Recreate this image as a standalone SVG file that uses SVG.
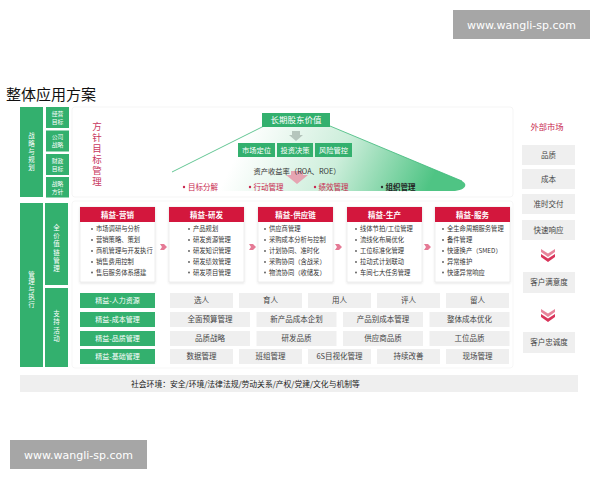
<svg xmlns="http://www.w3.org/2000/svg" width="600" height="480" viewBox="0 0 600 480">
<defs>
<style>
text{font-family:"Noto Sans CJK SC","Noto Sans",sans-serif;}
.g{fill:#33b06e;}
.wt{fill:#fff;text-anchor:middle;}
.vt{fill:#fff;text-anchor:middle;font-size:6.5px;writing-mode:tb;}
.st{fill:#fff;text-anchor:middle;font-size:5.8px;}
.card{fill:#fff;stroke:#e4e4e4;stroke-width:0.6;}
.hdr{fill:#d3173d;}
.ht{fill:#fff;text-anchor:middle;font-size:7.5px;font-weight:bold;}
.it{fill:#333;font-size:6.3px;}
.dot{fill:#555;}
.gb{fill:#efefef;}
.gt{fill:#444;text-anchor:middle;font-size:7.5px;}
.rt{fill:#c8284f;font-size:7.5px;}
.pa{fill:#e57a95;}
.chev{fill:#d9345a;}
.wm{fill:#a6a6a6;}
.wmt{fill:#fff;font-family:"DejaVu Sans",sans-serif;font-size:11px;text-anchor:middle;}
</style>
<linearGradient id="roof" gradientUnits="userSpaceOnUse" x1="250" y1="125" x2="420" y2="205">
<stop offset="0" stop-color="#ffffff"/>
<stop offset="0.5" stop-color="#cdeedb"/>
<stop offset="1" stop-color="#4fc484"/>
</linearGradient>
<filter id="sh" x="-10%" y="-10%" width="120%" height="130%">
<feDropShadow dx="0" dy="1" stdDeviation="1" flood-color="#000" flood-opacity="0.12"/>
</filter>
</defs>
<rect width="600" height="480" fill="#fff"/>

<g id="watermark-top"><rect class="wm" x="453" y="10" width="137" height="29"/><text class="wmt" x="521.5" y="28.5">www.wangli-sp.com</text></g>
<g id="watermark-bottom"><rect class="wm" x="10" y="440" width="137" height="29"/><text class="wmt" x="78.5" y="458.5">www.wangli-sp.com</text></g>

<text x="6" y="100" font-size="15" fill="#111">整体应用方案</text>

<!-- panels -->
<rect x="72" y="107" width="441" height="90" rx="3" fill="#fff" stroke="#eeeeee" stroke-width="0.6"/>
<rect x="72" y="201" width="441" height="167" rx="3" fill="#fff" stroke="#f2f2f2" stroke-width="0.6"/>

<!-- left columns -->
<g id="strategy-col">
<rect class="g" x="20" y="107" width="23" height="90"/>
<text class="vt" x="31.5" y="152" letter-spacing="1.5">战略与规划</text>
</g>
<g id="sub-goals">
<rect class="g" x="46" y="107" width="23" height="21"/><text class="st" x="57.5" y="115.5">经营</text><text class="st" x="57.5" y="123.5">目标</text>
<rect class="g" x="46" y="130.5" width="23" height="21"/><text class="st" x="57.5" y="139">公司</text><text class="st" x="57.5" y="147">战略</text>
<rect class="g" x="46" y="154" width="23" height="21"/><text class="st" x="57.5" y="162.5">财政</text><text class="st" x="57.5" y="170.5">目标</text>
<rect class="g" x="46" y="177" width="23" height="20.5"/><text class="st" x="57.5" y="185.5">战略</text><text class="st" x="57.5" y="193.5">方针</text>
</g>
<g id="exec-col">
<rect class="g" x="20" y="203" width="23" height="164"/>
<text class="vt" x="31.5" y="290" letter-spacing="1">管理与执行</text>
</g>
<g id="value-chain-col">
<rect class="g" x="45" y="203" width="23" height="82"/>
<text class="vt" x="56.5" y="249" letter-spacing="1.8">全价值链管理</text>
</g>
<g id="support-col">
<rect class="g" x="45" y="288" width="23" height="79"/>
<text class="vt" x="56.5" y="327" letter-spacing="1.8">支持活动</text>
</g>

<!-- policy management -->
<text id="policy-label" x="97" y="155" fill="#c8385f" font-size="9.5" text-anchor="middle" writing-mode="tb" letter-spacing="1.5">方针目标管理</text>

<g id="roof">
<path d="M264 126 L172 172 C168 180 170 190 181 191 L455 191 C466 190 468 184 462 181 L330 126 Z" fill="url(#roof)"/>
<path d="M264 126 L172 172 M330 126 L462 181" stroke="#3cb878" stroke-width="0.8" fill="none"/>
</g>

<g id="connectors">
<polygon points="292,131 300,131 300,135 303,135 296,141 289,135 292,135" fill="#a9b9b0" opacity="0.8"/>
<polygon points="291,171 303,171 303,175 308,175 297,184 286,175 291,175" fill="#e88aa0" opacity="0.75"/>
<polygon class="pa" points="160,244 164,244 167,247 164,250 160,250 162,247"/>
<polygon class="pa" points="249,244 253,244 256,247 253,250 249,250 251,247"/>
<polygon class="pa" points="335,244 339,244 342,247 339,250 335,250 337,247"/>
<polygon class="pa" points="424,244 428,244 431,247 428,250 424,250 426,247"/>
<g class="chev">
<polygon points="541,249 548,253.5 555,249 555,252 548,257 541,252" opacity="0.6"/>
<polygon points="541,254 548,258.5 555,254 555,257 548,262 541,257"/>
<polygon points="541,309 548,313.5 555,309 555,312 548,317 541,312" opacity="0.6"/>
<polygon points="541,314 548,318.5 555,314 555,317 548,322 541,317"/>
</g>
</g>

<g id="shareholder-value">
<rect class="g" x="262" y="113" width="68" height="14"/>
<text class="wt" font-size="8.5" x="296" y="123">长期股东价值</text>
</g>
<g id="market-position"><rect class="g" x="238" y="143" width="37" height="14"/><text class="wt" font-size="7.3" x="256.5" y="152.8">市场定位</text></g>
<g id="investment"><rect class="g" x="277" y="143" width="36" height="14"/><text class="wt" font-size="7.3" x="295" y="152.8">投资决策</text></g>
<g id="risk"><rect class="g" x="315" y="143" width="37" height="14"/><text class="wt" font-size="7.3" x="333.5" y="152.8">风险管控</text></g>
<text x="297" y="174" font-size="7.3" fill="#333" text-anchor="middle">资产收益率（ROA、ROE）</text>

<g id="bullets-top">
<circle cx="184" cy="187" r="1.2" fill="#c8284f"/><text class="rt" x="188" y="189.5">目标分解</text>
<circle cx="250" cy="187" r="1.2" fill="#c8284f"/><text class="rt" x="253.5" y="189.5">行动管理</text>
<circle cx="315" cy="187" r="1.2" fill="#c8284f"/><text class="rt" x="318.5" y="189.5">绩效管理</text>
<circle cx="382" cy="187" r="1.2" fill="#333"/><text x="385.5" y="189.5" font-size="7.5" fill="#222" font-weight="bold">组织管理</text>
</g>

<!-- value chain cards -->
<g id="card-marketing">
<rect class="card" x="80" y="207" width="75" height="75" filter="url(#sh)"/>
<rect class="hdr" x="80" y="207" width="75" height="15"/><text class="ht" x="117.5" y="217.5">精益-营销</text>
<circle class="dot" cx="92" cy="229" r="0.9"/><text class="it" x="96" y="231.2">市场调研与分析</text>
<circle class="dot" cx="92" cy="240" r="0.9"/><text class="it" x="96" y="242.2">营销策略、策划</text>
<circle class="dot" cx="92" cy="251" r="0.9"/><text class="it" x="96" y="253.2">商机管理与开发执行</text>
<circle class="dot" cx="92" cy="262" r="0.9"/><text class="it" x="96" y="264.2">销售费用控制</text>
<circle class="dot" cx="92" cy="272.5" r="0.9"/><text class="it" x="96" y="274.7">售后服务体系搭建</text>
</g>
<g id="card-rd">
<rect class="card" x="169" y="207" width="75" height="75" filter="url(#sh)"/>
<rect class="hdr" x="169" y="207" width="75" height="15"/><text class="ht" x="206.5" y="217.5">精益-研发</text>
<circle class="dot" cx="189" cy="229" r="0.9"/><text class="it" x="193" y="231.2">产品规划</text>
<circle class="dot" cx="189" cy="240" r="0.9"/><text class="it" x="193" y="242.2">研发资源管理</text>
<circle class="dot" cx="189" cy="251" r="0.9"/><text class="it" x="193" y="253.2">研发知识管理</text>
<circle class="dot" cx="189" cy="262" r="0.9"/><text class="it" x="193" y="264.2">研发绩效管理</text>
<circle class="dot" cx="189" cy="272.5" r="0.9"/><text class="it" x="193" y="274.7">研发项目管理</text>
</g>
<g id="card-supply">
<rect class="card" x="258" y="207" width="75" height="75" filter="url(#sh)"/>
<rect class="hdr" x="258" y="207" width="75" height="15"/><text class="ht" x="295.5" y="217.5">精益-供应链</text>
<circle class="dot" cx="265" cy="229" r="0.9"/><text class="it" x="269" y="231.2">供应商管理</text>
<circle class="dot" cx="265" cy="240" r="0.9"/><text class="it" x="269" y="242.2">采购成本分析与控制</text>
<circle class="dot" cx="265" cy="251" r="0.9"/><text class="it" x="269" y="253.2">计划协同、准时化</text>
<circle class="dot" cx="265" cy="262" r="0.9"/><text class="it" x="269" y="264.2">采购协同（含战采）</text>
<circle class="dot" cx="265" cy="272.5" r="0.9"/><text class="it" x="269" y="274.7">物流协同（收储发）</text>
</g>
<g id="card-production">
<rect class="card" x="347" y="207" width="75" height="75" filter="url(#sh)"/>
<rect class="hdr" x="347" y="207" width="75" height="15"/><text class="ht" x="384.5" y="217.5">精益-生产</text>
<circle class="dot" cx="356" cy="229" r="0.9"/><text class="it" x="360" y="231.2">线体节拍/工位管理</text>
<circle class="dot" cx="356" cy="240" r="0.9"/><text class="it" x="360" y="242.2">流线化布局优化</text>
<circle class="dot" cx="356" cy="251" r="0.9"/><text class="it" x="360" y="253.2">工位标准化管理</text>
<circle class="dot" cx="356" cy="262" r="0.9"/><text class="it" x="360" y="264.2">拉动式计划联动</text>
<circle class="dot" cx="356" cy="272.5" r="0.9"/><text class="it" x="360" y="274.7">车间七大任务管理</text>
</g>
<g id="card-service">
<rect class="card" x="435" y="207" width="75" height="75" filter="url(#sh)"/>
<rect class="hdr" x="435" y="207" width="75" height="15"/><text class="ht" x="472.5" y="217.5">精益-服务</text>
<circle class="dot" cx="443" cy="229" r="0.9"/><text class="it" x="447" y="231.2">全生命周期服务管理</text>
<circle class="dot" cx="443" cy="240" r="0.9"/><text class="it" x="447" y="242.2">备件管理</text>
<circle class="dot" cx="443" cy="251" r="0.9"/><text class="it" x="447" y="253.2">快速换产（SMED）</text>
<circle class="dot" cx="443" cy="262" r="0.9"/><text class="it" x="447" y="264.2">异常维护</text>
<circle class="dot" cx="443" cy="272.5" r="0.9"/><text class="it" x="447" y="274.7">快速异常响应</text>
</g>

<!-- support rows -->
<g id="row-hr">
<rect class="g" x="80" y="293" width="75" height="15"/><text class="wt" font-size="7" x="117.5" y="303">精益-人力资源</text>
<rect class="gb" x="170" y="293" width="63" height="15"/><text class="gt" x="201.5" y="303.3">选人</text>
<rect class="gb" x="239" y="293" width="63" height="15"/><text class="gt" x="270.5" y="303.3">育人</text>
<rect class="gb" x="308" y="293" width="63" height="15"/><text class="gt" x="339.5" y="303.3">用人</text>
<rect class="gb" x="377" y="293" width="63" height="15"/><text class="gt" x="408.5" y="303.3">评人</text>
<rect class="gb" x="446" y="293" width="63" height="15"/><text class="gt" x="477.5" y="303.3">留人</text>
</g>
<g id="row-cost">
<rect class="g" x="80" y="312" width="75" height="15"/><text class="wt" font-size="7" x="117.5" y="322">精益-成本管理</text>
<rect class="gb" x="170" y="312" width="80" height="15"/><text class="gt" x="210" y="322.3">全面预算管理</text>
<rect class="gb" x="256.5" y="312" width="80" height="15"/><text class="gt" x="296.5" y="322.3">新产品成本企划</text>
<rect class="gb" x="343" y="312" width="80" height="15"/><text class="gt" x="383" y="322.3">产品别成本管理</text>
<rect class="gb" x="429.5" y="312" width="80" height="15"/><text class="gt" x="469.5" y="322.3">整体成本优化</text>
</g>
<g id="row-quality">
<rect class="g" x="80" y="331" width="75" height="15"/><text class="wt" font-size="7" x="117.5" y="341">精益-品质管理</text>
<rect class="gb" x="170" y="331" width="80" height="15"/><text class="gt" x="210" y="341.3">品质战略</text>
<rect class="gb" x="256.5" y="331" width="80" height="15"/><text class="gt" x="296.5" y="341.3">研发品质</text>
<rect class="gb" x="343" y="331" width="80" height="15"/><text class="gt" x="383" y="341.3">供应商品质</text>
<rect class="gb" x="429.5" y="331" width="80" height="15"/><text class="gt" x="469.5" y="341.3">工位品质</text>
</g>
<g id="row-base">
<rect class="g" x="80" y="349" width="75" height="15"/><text class="wt" font-size="7" x="117.5" y="359">精益-基础管理</text>
<rect class="gb" x="170" y="349" width="63" height="15"/><text class="gt" x="201.5" y="359.3">数据管理</text>
<rect class="gb" x="239" y="349" width="63" height="15"/><text class="gt" x="270.5" y="359.3">班组管理</text>
<rect class="gb" x="308" y="349" width="63" height="15"/><text class="gt" x="339.5" y="359.3">6S目视化管理</text>
<rect class="gb" x="377" y="349" width="63" height="15"/><text class="gt" x="408.5" y="359.3">持续改善</text>
<rect class="gb" x="446" y="349" width="63" height="15"/><text class="gt" x="477.5" y="359.3">现场管理</text>
</g>

<!-- right column -->
<g id="external-market">
<text x="547" y="130" font-size="8.3" fill="#c8284f" text-anchor="middle">外部市场</text>
<rect class="gb" x="522" y="145" width="53" height="20"/><text class="gt" x="548.5" y="157.8">品质</text>
<rect class="gb" x="522" y="169" width="53" height="20"/><text class="gt" x="548.5" y="181.8">成本</text>
<rect class="gb" x="522" y="194" width="53" height="20"/><text class="gt" x="548.5" y="206.8">准时交付</text>
<rect class="gb" x="522" y="220" width="53" height="20"/><text class="gt" x="548.5" y="232.8">快速响应</text>
</g>
<g id="satisfaction"><rect class="gb" x="523" y="272" width="52" height="21"/><text class="gt" x="549" y="285.3">客户满意度</text></g>
<g id="loyalty"><rect class="gb" x="523" y="332" width="52" height="21"/><text class="gt" x="549" y="345.3">客户忠诚度</text></g>

<g id="social-env">
<rect class="gb" x="20" y="375" width="558" height="17"/>
<text x="131" y="386.8" font-size="7.8" fill="#222">社会环境：安全/环境/法律法规/劳动关系/产权/党建/文化与机制等</text>
</g>
</svg>
